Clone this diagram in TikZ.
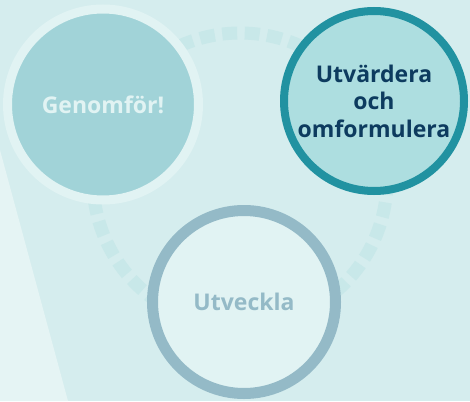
\documentclass[tikz,border=0pt]{standalone}
\usepackage{fontspec}
\setmainfont{Open Sans}
\usetikzlibrary{positioning}
\definecolor{cyclebg}{HTML}{D5EDEE}
\definecolor{cyclewedge}{HTML}{E5F4F4}
\definecolor{cycledash}{HTML}{C8E8E9}
\definecolor{doneringc}{HTML}{E1F3F3}
\definecolor{donefill}{HTML}{A1D3D8}
\definecolor{evalring}{HTML}{2192A1}
\definecolor{evalfill}{HTML}{ADDEE0}
\definecolor{evaltext}{HTML}{0D3B5F}
\definecolor{devring}{HTML}{94BAC7}
\definecolor{devfill}{HTML}{E1F3F3}

\begin{document}
\begin{tikzpicture}[x=1pt, y=-1pt,
    stage/.style={circle, inner sep=0pt, text width=155pt, align=center,
      font=\fontsize{23}{27.5}\selectfont\bfseries},
    done/.style={stage, fill=donefill, draw=doneringc, line width=9pt, minimum size=191pt, text=doneringc},
    evaluate/.style={stage, fill=evalfill, draw=evalring, line width=8pt, minimum size=180pt, text=evaltext},
    develop/.style={stage, fill=devfill, draw=devring, line width=11pt, minimum size=183pt, text=devring}]
    \useasboundingbox (0,0) rectangle (470,401);
    \fill[cyclebg] (0,0) rectangle (470,401);
    \fill[cyclewedge] (0,150) -- (68,401) -- (0,401) -- cycle;
    % dashed loop behind the stages
    \coordinate (hub) at (240,180);
    \draw[cycledash, line width=13pt, dash pattern=on 15pt off 7.5pt] (hub) circle (147);
    \node [done] (genomfor) at (103,104.5) {Genomför!};
    \node [evaluate] (utvardera) at (374,101) {Utvärdera\\och\\omformulera};
    \node [develop] (utveckla) at (244,302) {Utveckla};
\end{tikzpicture}
\end{document}
